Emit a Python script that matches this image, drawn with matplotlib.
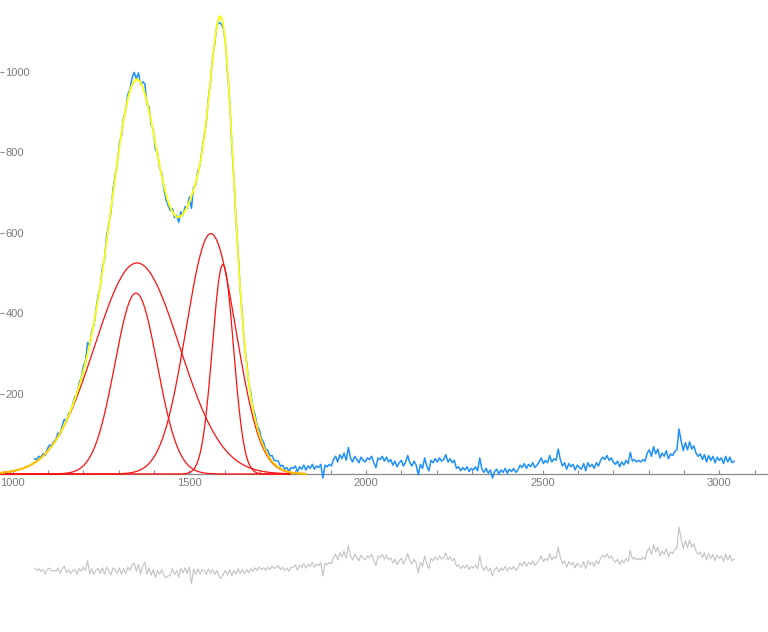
import numpy as np
import matplotlib
matplotlib.use('Agg')
import matplotlib.pyplot as plt
from matplotlib.collections import LineCollection
from matplotlib.ticker import MultipleLocator, FixedLocator

# ---------------- data ----------------
wavenumber_start = 1062
wavenumber_step = 6

# measured intensity, 1062 ... 1788 (peak region)
intensity_peak = [
    38, 36, 44, 42, 51, 46, 62, 72, 71, 80,            # 1062-1116
    86, 102, 98, 119, 136, 131, 151, 154, 175, 192,    # 1122-1176
    196, 227, 239, 268, 281, 327, 319, 357, 370, 411,  # 1182-1236
    445, 466, 515, 535, 591, 622, 650, 708, 743, 772,  # 1242-1296
    823, 842, 888, 905, 945, 957, 986, 999, 983, 998,  # 1302-1356
    969, 976, 970, 920, 913, 869, 856, 808, 798, 761,  # 1362-1416
    747, 709, 682, 668, 655, 660, 638, 644, 626, 652,  # 1422-1476
    645, 665, 661, 689, 661, 714, 719, 754, 767, 808,  # 1482-1536
    842, 875, 936, 976, 1037, 1071, 1118, 1123, 1120, 1109,  # 1542-1596
    1075, 998, 930, 821, 737, 630, 552, 457, 394, 321,  # 1602-1656
    279, 227, 201, 165, 148, 120, 110, 88, 79, 61,     # 1662-1716
    59, 45, 46, 34, 33, 32, 19, 22, 12, 16,            # 1722-1776
    7, 16,                                             # 1782-1788
]

# measured intensity, 1794 ... 3042 (baseline region)
intensity_base = [
    14, 20, 6, 18, 12, 22, 10, 20, 14, 24,      # 1794
    12, 20, 16, 24, -10, 22, 18, 24, 20, 36,    # 1854
    44, 30, 48, 38, 52, 34, 66, 40, 30, 44,     # 1914
    36, 28, 42, 34, 30, 40, 36, 44, 28, 16,     # 1974
    40, 36, 44, 32, 42, 30, 36, 22, 32, 18,     # 2034
    28, 34, 20, 30, 46, 28, 20, 32, 22, -2,     # 2094
    24, 14, 40, 20, 8, 34, 28, 38, 30, 40,      # 2154
    32, 36, 48, 30, 38, 28, 34, 14, 18, 8,      # 2214
    16, 10, 18, 6, 14, 10, 18, 8, 40, 12,       # 2274
    4, 14, 2, 10, -10, 6, 12, 0, 10, 4,         # 2334
    14, 2, 12, 6, 14, 4, 10, 22, 16, 26,        # 2394
    14, 24, 18, 28, 16, 22, 30, 40, 26, 34,     # 2454
    28, 46, 30, 38, 34, 62, 36, 20, 28, 12,     # 2514
    26, 18, 24, 10, 22, 16, 12, 26, 8, 28,      # 2574
    18, 24, 14, 28, 20, 34, 42, 36, 46, 34,     # 2634
    40, 30, 24, 32, 18, 30, 22, 34, 26, 54,     # 2694
    32, 36, 30, 34, 30, 36, 32, 52, 60, 44,     # 2754
    68, 50, 62, 40, 52, 44, 58, 38, 50, 46,     # 2814
    56, 60, 112, 82, 58, 78, 60, 80, 62, 70,    # 2874
    52, 44, 50, 36, 48, 30, 46, 34, 44, 28,     # 2934
    42, 34, 40, 26, 44, 30, 42, 28, 32,         # 2994-3042
]

# Gaussian fit components
peak_centers = [1352, 1349, 1561, 1595]
peak_heights = [525, 450, 598, 521]
peak_sigmas = [120, 60, 70, 30]

x_major_ticks = [1000, 1500, 2000, 2500, 3000]
y_major_ticks = [200, 400, 600, 800, 1000]

# ---------------- helpers ----------------
def component(x, c, h, s):
    return h * np.exp(-0.5 * ((x - c) / s) ** 2)

def model(x):
    return sum(component(x, c, h, s) for c, h, s in zip(peak_centers, peak_heights, peak_sigmas))

intensity = np.array(intensity_peak + intensity_base, dtype=float)
wavenumber = wavenumber_start + wavenumber_step * np.arange(len(intensity))
residual = intensity - model(wavenumber)

# ---------------- figure ----------------
W, H = 768, 632
fig = plt.figure(figsize=(W / 100, H / 100), dpi=100)

x0_px, x_scale = 12.7, 0.3533       # px of 1000, px per unit
y0_px, y_scale = 474.0, 0.402       # px of zero, px per unit
xlim = (1000 - x0_px / x_scale, 1000 + (W - x0_px) / x_scale)

main_bottom_px = 500
ax = fig.add_axes([0, (H - main_bottom_px) / H, 1, main_bottom_px / H])
ax.set_xlim(*xlim)
ax.set_ylim(-(main_bottom_px - y0_px) / y_scale, y0_px / y_scale)

blue = '#1E8FFF'
ax.plot(wavenumber, intensity, color=blue, lw=1.1, zorder=2)

# Gaussian components (red), drawn beneath the fit curve
xc = np.linspace(xlim[0], 1785, 700)
for c, h, s in zip(peak_centers, peak_heights, peak_sigmas):
    ax.plot(xc, component(xc, c, h, s), color='#FF1010', lw=0.9, zorder=3)

# fit curve with orange -> yellow colouring by height
xf = np.linspace(xlim[0], 1830, 900)
yf = model(xf)
pts = np.column_stack([xf, yf]).reshape(-1, 1, 2)
segs = np.concatenate([pts[:-1], pts[1:]], axis=1)
vm = 0.5 * (yf[:-1] + yf[1:])
t = np.clip(vm / 170.0, 0, 1)[:, None]
c_or = np.array([1.0, 0.72, 0.0])
c_ye = np.array([1.0, 1.0, 0.05])
cols = c_or * (1 - t) + c_ye * t
lc = LineCollection(segs, colors=cols, linewidths=1.2, zorder=4, capstyle='round')
ax.add_collection(lc)

# axes styling
grey = '#8a8a8a'
for sp in ['top', 'right', 'left']:
    ax.spines[sp].set_visible(False)
ax.spines['bottom'].set_position(('data', 0))
ax.spines['bottom'].set_color(grey)
ax.spines['bottom'].set_linewidth(0.9)
ax.spines['bottom'].set_zorder(1)

ax.xaxis.set_major_locator(FixedLocator(x_major_ticks))
ax.xaxis.set_minor_locator(MultipleLocator(100))
ax.yaxis.set_major_locator(FixedLocator(y_major_ticks))
ax.tick_params(axis='x', which='both', direction='in', length=3.0, width=0.8,
               color=grey, labelcolor='#7a7a7a', labelsize=8, pad=3.2)
ax.tick_params(axis='y', which='both', direction='in', length=2.9, width=0.8,
               color=grey, labelcolor='#7a7a7a', labelsize=8, pad=-4.0)
for lab in ax.get_xticklabels() + ax.get_yticklabels():
    lab.set_fontfamily(['Liberation Sans', 'DejaVu Sans'])
for lab in ax.get_yticklabels():
    lab.set_horizontalalignment('left')
ax.patch.set_alpha(0)

# residual panel
r0_px = 572.0
ax2 = fig.add_axes([0, 0, 1, (H - main_bottom_px) / H])
ax2.set_xlim(*xlim)
ax2.set_ylim(-(H - r0_px) / y_scale, (r0_px - main_bottom_px) / y_scale)
ax2.plot(wavenumber, residual, color='#c2c2c2', lw=0.8)
ax2.axis('off')

fig.savefig('out.png', dpi=100)
